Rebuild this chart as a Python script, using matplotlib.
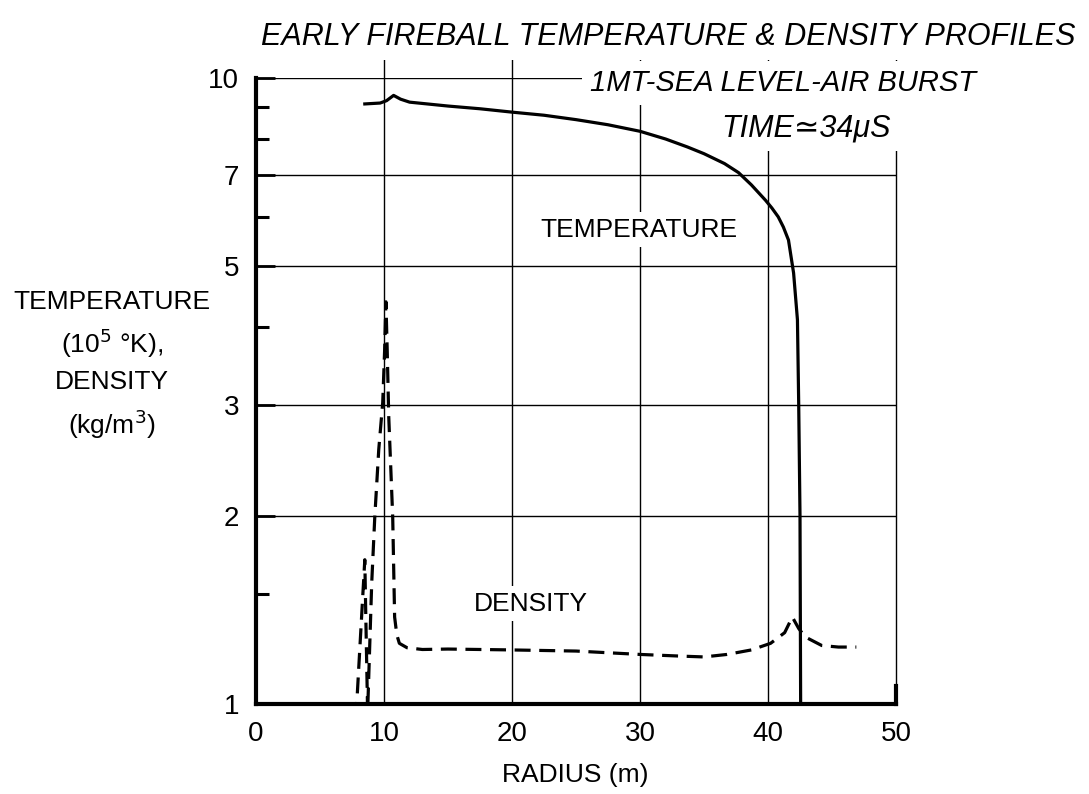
import matplotlib
matplotlib.use("Agg")
import matplotlib.pyplot as plt
from matplotlib.ticker import NullFormatter

# temperature profile (1e5 K) vs radius (m)
temp_r = [8.5, 9.7, 10.2, 10.75, 11.3, 12.0, 15, 17.5, 20, 22.5, 25, 27.5, 30, 32,
          33.7, 35, 36.6, 37.7, 38.7, 39.8, 40.3, 40.8, 41.2, 41.6, 42.0, 42.3, 42.4,
          42.5, 42.55]
temp_v = [9.09, 9.12, 9.2, 9.38, 9.25, 9.15, 9.02, 8.93, 8.82, 8.72, 8.58, 8.42, 8.22, 7.99,
          7.76, 7.57, 7.3, 7.06, 6.75, 6.38, 6.2, 6.0, 5.78, 5.51, 4.88, 4.11, 3.0,
          2.0, 1.0]

# density profile (kg/m3) vs radius (m)
dens_r = [7.80, 7.87, 8.18, 8.5, 8.57, 8.72, 9.04, 9.28, 9.59, 9.9, 10.05, 10.15,
          10.25, 10.37, 10.68, 10.83, 11.0, 11.2, 11.8, 13, 15, 20, 25, 30, 33, 35,
          36.8, 38.7, 40.2, 41.3, 41.9, 42.4, 42.9, 44.2, 45.5, 46.9]
dens_v = [0.95, 1.0, 1.30, 1.70, 1.41, 0.97, 1.56, 1.99, 2.55, 3.03, 3.68, 4.39,
          3.68, 2.88, 1.99, 1.377, 1.29, 1.25, 1.23, 1.222, 1.224, 1.22, 1.215, 1.20, 1.193, 1.189,
          1.20, 1.22, 1.25, 1.30, 1.377, 1.32, 1.28, 1.24, 1.233, 1.233]

x_ticks = [0, 10, 20, 30, 40, 50]
y_ticks = [1, 2, 3, 5, 7, 10]
y_minor = [1.5, 4, 6, 8, 9]

plt.rcParams['font.family'] = ['Liberation Sans', 'DejaVu Sans']

fig = plt.figure(figsize=(10.89, 7.94), dpi=100)
ax = fig.add_axes([256/1089, 1 - 704/794, 640/1089, 626/794])
ax.set_yscale('log')
ax.set_xlim(0, 50)
ax.set_ylim(1, 10)

ax.set_xticks(x_ticks)
ax.set_xticklabels([str(v) for v in x_ticks], fontsize=20)
ax.set_yticks(y_ticks)
ax.set_yticklabels([str(v) for v in y_ticks], fontsize=20)
ax.set_yticks(y_minor, minor=True)
ax.yaxis.set_minor_formatter(NullFormatter())
ax.tick_params(axis='x', length=0, pad=12)
ax.tick_params(axis='y', which='major', direction='in', length=14, width=2, pad=12)
ax.tick_params(axis='y', which='minor', direction='in', length=9, width=2.2)

for s in ['top', 'right']:
    ax.spines[s].set_visible(False)
ax.spines['left'].set_linewidth(3)
ax.spines['bottom'].set_linewidth(3)

# grid
for y in y_ticks[1:]:
    ax.axhline(y, color='black', lw=1.0, zorder=1)
for x in x_ticks[1:]:
    ax.plot([x, x], [1, 11], color='black', lw=1.0, clip_on=False, zorder=1)
ax.plot([50, 50], [1, 1.07], color='black', lw=3, clip_on=False, zorder=1)

ax.plot(temp_r, temp_v, color='black', lw=2.3, zorder=3)
ax.plot(dens_r, dens_v, color='black', lw=2.3, dashes=(5, 2.7), zorder=3)

box = dict(facecolor='white', edgecolor='none', pad=4)
ax.text(29.9, 5.72, 'TEMPERATURE', ha='center', va='center', fontsize=19, bbox=box, zorder=4)
ax.text(21.5, 1.445, 'DENSITY', ha='center', va='center', fontsize=19, bbox=box, zorder=4)

fig.text(112/1089, 1 - 365/794,
         'TEMPERATURE\n(10$^5$ °K),\nDENSITY\n(kg/m$^3$)',
         ha='center', va='center', fontsize=19, linespacing=1.5, multialignment='center')
fig.text(575/1089, 1 - 775/794, 'RADIUS (m)', ha='center', va='center', fontsize=19)

tbox = dict(facecolor='white', edgecolor='none', pad=6)
fig.text(668/1089, 1 - 37/794, 'EARLY FIREBALL TEMPERATURE & DENSITY PROFILES',
         ha='center', va='center', fontsize=22, style='italic', bbox=tbox)
fig.text(783/1089, 1 - 83/794, '1MT-SEA LEVEL-AIR BURST',
         ha='center', va='center', fontsize=21, style='italic', bbox=tbox)
fig.text(806/1089, 1 - 128/794, 'TIME\u224334\u03bcS',
         ha='center', va='center', fontsize=22, style='italic', bbox=tbox)

fig.savefig('out.png', dpi=100)
